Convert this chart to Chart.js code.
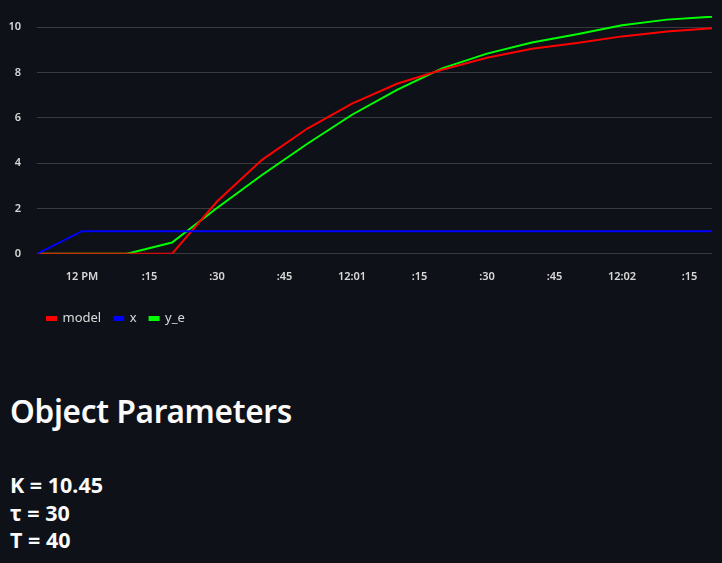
<!DOCTYPE html>
<html>
<head>
<meta charset="utf-8">
<script src="https://cdn.jsdelivr.net/npm/chart.js@4"></script>
<style>
  html, body { margin: 0; padding: 0; background: #0e1117; }
  body { width: 722px; height: 563px; overflow: hidden; font-family: 'Noto Sans', sans-serif; color: #fafafa; }
  #wrap { position: absolute; left: 0; top: 0; width: 722px; height: 347px; }
  h2 { position: absolute; left: 10px; top: 389px; margin: 0; font-size: 31.5px; font-weight: 600; letter-spacing: -0.3px; }
  .params { position: absolute; left: 10px; top: 471px; font-size: 21.5px; font-weight: 700; line-height: 27.5px; }
</style>
</head>
<body>
<div id="wrap"><canvas id="chart"></canvas></div>
<h2>Object Parameters</h2>
<div class="params">
  <div>K = 10.45</div>
  <div>τ = 30</div>
  <div>T = 40</div>
</div>
<script>
// time in seconds relative to 12 PM
const times = [-10, 0, 10, 20, 30, 40, 50, 60, 70, 80, 90, 100, 110, 120, 130, 140];
const modelValues = [0, 0, 0, 0, 2.31, 4.15, 5.52, 6.63, 7.51, 8.13, 8.66, 9.05, 9.31, 9.6, 9.82, 9.96];
const xValues = [0, 1, 1, 1, 1, 1, 1, 1, 1, 1, 1, 1, 1, 1, 1, 1];
const yeValues = [0, 0, 0, 0.5, 2.02, 3.48, 4.85, 6.14, 7.24, 8.19, 8.84, 9.33, 9.69, 10.09, 10.34, 10.47];

const xTicks = [0, 15, 30, 45, 60, 75, 90, 105, 120, 135];
const xTickLabels = ['12 PM', ':15', ':30', ':45', '12:01', ':15', ':30', ':45', '12:02', ':15'];
const yTicks = [0, 2, 4, 6, 8, 10];

const labelColor = 'rgba(250, 250, 250, 0.85)';
const gridColor = 'rgba(250, 250, 250, 0.18)';

// order: lower numbers are drawn on top
function series(label, values, color, order) {
    return {
        label,
        data: times.map((t, i) => ({ x: t, y: values[i] })),
        borderColor: color,
        backgroundColor: color,
        borderWidth: 2,
        pointRadius: 0,
        fill: false,
        tension: 0,
        order
    };
}

// push the legend in a bit from the left edge, like the original
const legendShift = {
    id: 'legendShift',
    afterLayout(chart) {
        if (chart.legend) {
            chart.legend.left += 34;
            chart.legend.right += 34;
        }
    }
};

new Chart(document.getElementById('chart'), {
    type: 'line',
    data: {
        datasets: [
            series('model', modelValues, '#ff0000', 1),
            series('x', xValues, '#0000ff', 0),
            series('y_e', yeValues, '#00ff00', 2)
        ]
    },
    plugins: [legendShift],
    options: {
        responsive: true,
        maintainAspectRatio: false,
        animation: false,
        layout: { padding: { left: 0, right: 10, top: 16, bottom: 12 } },
        plugins: {
            tooltip: { enabled: false },
            legend: {
                position: 'bottom',
                align: 'start',
                labels: {
                    color: labelColor,
                    boxWidth: 9,
                    boxHeight: 3,
                    padding: 13,
                    font: { family: 'Noto Sans', size: 13 },
                    sort: (a, b) => a.datasetIndex - b.datasetIndex
                }
            }
        },
        scales: {
            x: {
                type: 'linear',
                min: -10,
                max: 140,
                afterBuildTicks: axis => { axis.ticks = xTicks.map(v => ({ value: v })); },
                ticks: {
                    color: labelColor,
                    padding: 16,
                    maxRotation: 0,
                    font: { family: 'Noto Sans', size: 11, weight: '600' },
                    callback: (v) => xTickLabels[xTicks.indexOf(v)]
                },
                grid: { display: false, drawTicks: false },
                border: { display: false }
            },
            y: {
                min: 0,
                max: 10.5,
                afterBuildTicks: axis => { axis.ticks = yTicks.map(v => ({ value: v })); },
                afterFit: axis => {
                    axis.width = 37;
                    axis.paddingTop = 0;
                    axis.paddingBottom = 0;
                },
                ticks: {
                    color: labelColor,
                    padding: 16,
                    font: { family: 'Noto Sans', size: 11, weight: '600' }
                },
                grid: { color: gridColor, drawTicks: false },
                border: { display: false }
            }
        }
    }
});
</script>
</body>
</html>
